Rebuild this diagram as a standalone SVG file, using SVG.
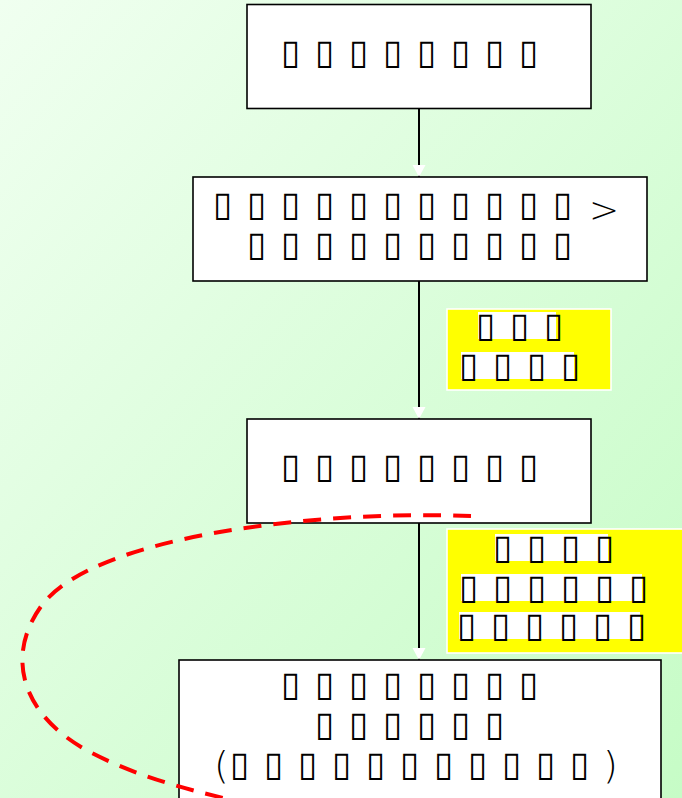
<svg xmlns="http://www.w3.org/2000/svg" width="682" height="798" viewBox="0 0 682 798">
<defs>
<linearGradient id="bg" x1="0" y1="0" x2="1" y2="1">
<stop offset="0" stop-color="#f0fff0"/>
<stop offset="1" stop-color="#c6fcc6"/>
</linearGradient>
<marker id="ah" markerUnits="userSpaceOnUse" markerWidth="14" markerHeight="14" refX="12" refY="7" orient="auto">
<path d="M0,0.5 L12,7 L0,13.5 Z" fill="#ffffff"/>
</marker>
<style>
.box{fill:#ffffff;stroke:#000000;stroke-width:1.6}
.note{fill:#ffff00;stroke:#ffffff;stroke-width:1.6}
.hl{fill:#ffffff}
.t{font-family:"DejaVu Sans",sans-serif;font-size:35px;fill:#000000}
.p{font-family:"DejaVu Sans",sans-serif;font-weight:200;fill:#000000}
.conn{stroke:#000000;stroke-width:2;fill:none;marker-end:url(#ah)}
</style>
</defs>
<rect x="0" y="0" width="682" height="798" fill="url(#bg)"/>
<g id="connectors">
<line class="conn" x1="419" y1="108" x2="419" y2="177"/>
<line class="conn" x1="419" y1="281" x2="419" y2="419"/>
<line class="conn" x1="419" y1="523" x2="419" y2="660"/>
</g>
<g id="node1">
<rect class="box" x="247" y="4.5" width="344" height="104"/>
<text class="t" x="281 315 349 383 417 451 485 519" y="63.5">▯▯▯▯▯▯▯▯</text>
</g>
<g id="node2">
<rect class="box" x="193" y="177" width="454" height="104"/>
<text class="t" x="213 247 281 315 349 383 417 451 485 519 553" y="215.5">▯▯▯▯▯▯▯▯▯▯▯</text>
<text class="p" x="589" y="222" style="font-size:36px">&gt;</text>
<text class="t" x="247 281 315 349 383 417 451 485 519 553" y="255.5">▯▯▯▯▯▯▯▯▯▯</text>
</g>
<g id="note1">
<rect class="note" x="447" y="309" width="164" height="81"/>
<rect class="hl" x="478" y="312" width="78" height="27"/>
<rect class="hl" x="461" y="352" width="113" height="27"/>
<text class="t" x="476 510 544" y="336.5">▯▯▯</text>
<text class="t" x="459 493 527 561" y="376.5">▯▯▯▯</text>
</g>
<g id="node3">
<rect class="box" x="247" y="419" width="344" height="104"/>
<text class="t" x="281 315 349 383 417 451 485 519" y="477.5">▯▯▯▯▯▯▯▯</text>
</g>
<g id="note2">
<rect class="note" x="447" y="529" width="236" height="124"/>
<rect class="hl" x="495" y="534" width="113" height="27"/>
<rect class="hl" x="461" y="574" width="181" height="27"/>
<rect class="hl" x="459" y="612" width="181" height="27"/>
<text class="t" x="493 527 561 595" y="558.5">▯▯▯▯</text>
<text class="t" x="459 493 527 561 595 629" y="598.5">▯▯▯▯▯▯</text>
<text class="t" x="457 491 525 559 593 627" y="636.5">▯▯▯▯▯▯</text>
</g>
<g id="node4">
<rect class="box" x="179" y="660" width="482" height="150"/>
<text class="t" x="281 315 349 383 417 451 485 519" y="695.5">▯▯▯▯▯▯▯▯</text>
<text class="t" x="315 349 383 417 451 485" y="735.5">▯▯▯▯▯▯</text>
<text class="p" x="214" y="778" style="font-size:38px">(</text>
<text class="t" x="230 264 298 332 366 400 434 468 502 536 570" y="775.5">▯▯▯▯▯▯▯▯▯▯▯</text>
<text class="p" x="603" y="778" style="font-size:38px">)</text>
</g>
<g id="loop">
<path d="M 471 516 C 320 510 95 535 42 605 C 5 655 20 715 90 752 C 140 778 190 790 240 802" fill="none" stroke="#ff0000" stroke-width="4" stroke-dasharray="18 12"/>
</g>
</svg>
